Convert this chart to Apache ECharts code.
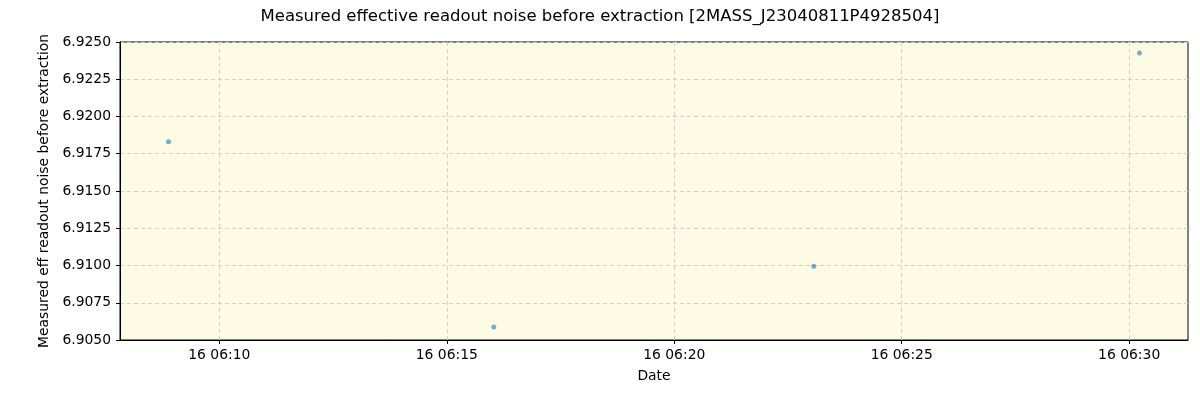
<!DOCTYPE html>
<html>
<head>
<meta charset="utf-8">
<script src="https://cdn.jsdelivr.net/npm/echarts@6/dist/echarts.min.js"></script>
<style>html,body{margin:0;padding:0;background:#fff}#c{width:1200px;height:400px}</style>
</head>
<body>
<div id="c"></div>
<script>
// Data (UTC timestamps, day 16)
const times = ['2020-08-16T06:08:53Z', '2020-08-16T06:16:02Z', '2020-08-16T06:23:04Z', '2020-08-16T06:30:13.6Z'];
const noiseValues = [6.91831, 6.90588, 6.90995, 6.92426];
const xRange = ['2020-08-16T06:07:49Z', '2020-08-16T06:31:17.6Z'];
const xTicks = ['2020-08-16T06:10:00Z', '2020-08-16T06:15:00Z', '2020-08-16T06:20:00Z', '2020-08-16T06:25:00Z', '2020-08-16T06:30:00Z'];
const yTicks = [6.9050, 6.9075, 6.9100, 6.9125, 6.9150, 6.9175, 6.9200, 6.9225, 6.9250];

const chart = echarts.init(document.getElementById('c'), null, {renderer: 'canvas'});
const font = 'DejaVu Sans';
const pad = n => String(n).padStart(2, '0');
const xTickVals = xTicks.map(t => Date.parse(t));
chart.setOption({
  animation: false,
  title: {
    text: 'Measured effective readout noise before extraction [2MASS_J23040811P4928504]',
    left: 'center', top: 3,
    textStyle: {fontFamily: font, fontSize: 16.5, fontWeight: 'normal', color: '#000'}
  },
  grid: {
    left: 120, right: 12, top: 42, bottom: 60,
    show: true, backgroundColor: '#fdfbe3', borderColor: '#000', borderWidth: 1
  },
  xAxis: {
    type: 'value',
    min: Date.parse(xRange[0]), max: Date.parse(xRange[1]),
    name: 'Date', nameLocation: 'middle', nameGap: 29,
    nameTextStyle: {fontFamily: font, fontSize: 13.9, color: '#000'},
    axisLine: {show: true, lineStyle: {color: '#000', width: 1}},
    axisTick: {show: true, inside: false, length: 4, lineStyle: {color: '#000'}, customValues: xTickVals},
    axisLabel: {
      fontFamily: font, fontSize: 13.9, color: '#000', margin: 8,
      customValues: xTickVals,
      formatter: v => { const d = new Date(v); return pad(d.getUTCDate()) + ' ' + pad(d.getUTCHours()) + ':' + pad(d.getUTCMinutes()); }
    },
    splitLine: {show: true, lineStyle: {color: '#d0d0d0', type: [4, 3], width: 1}}
  },
  yAxis: {
    type: 'value',
    min: yTicks[0], max: yTicks[yTicks.length - 1], interval: 0.0025,
    name: 'Measured eff readout noise before extraction', nameLocation: 'middle', nameGap: 58,
    nameTextStyle: {fontFamily: font, fontSize: 13.9, color: '#000'},
    axisLine: {show: true, lineStyle: {color: '#000', width: 1}},
    axisTick: {show: true, inside: false, length: 4, lineStyle: {color: '#000'}},
    axisLabel: {fontFamily: font, fontSize: 13.9, color: '#000', margin: 9, formatter: v => v.toFixed(4)},
    splitLine: {show: true, lineStyle: {color: '#d0d0d0', type: [4, 3], width: 1}}
  },
  series: [{
    type: 'scatter',
    data: times.map((t, i) => [Date.parse(t), noiseValues[i]]),
    symbolSize: 5,
    itemStyle: {color: '#1f77b4', opacity: 0.6}
  }]
});
</script>
</body>
</html>
